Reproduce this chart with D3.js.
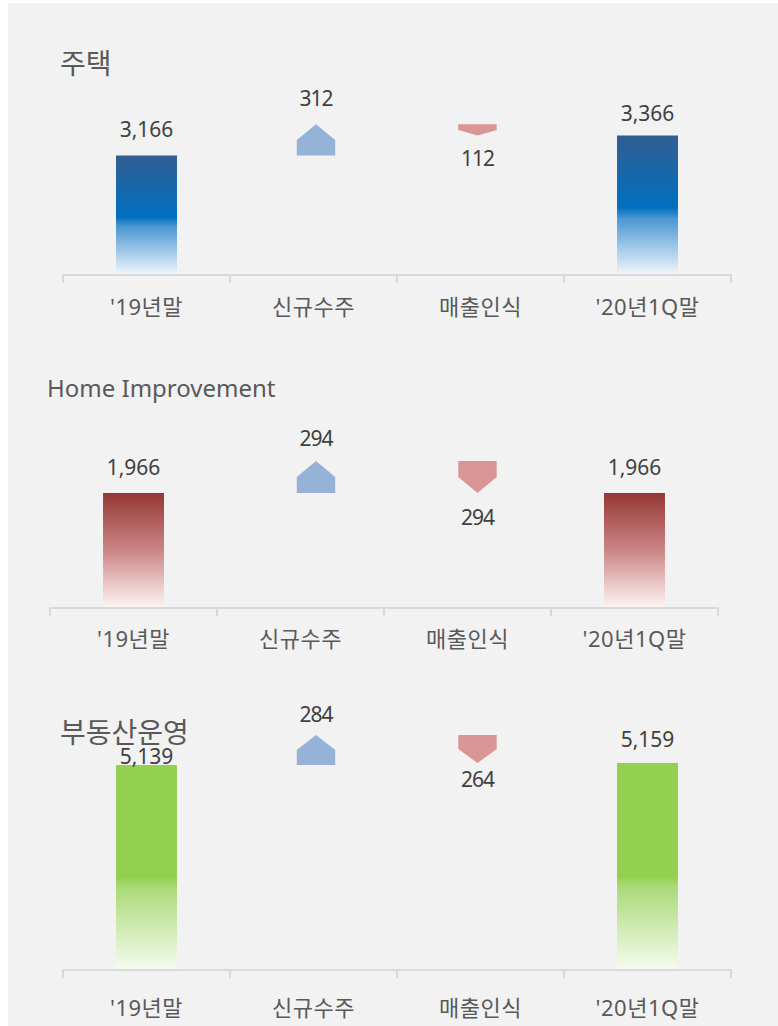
<!doctype html>
<html lang="ko">
<head>
    <meta charset="UTF-8">
    <title>수주잔고</title>
    <style>
        body { margin: 0; background: #fff; }
        svg { display: block; }
    </style>
</head>
<body>

<div class="canvas"></div>

<script src="https://d3js.org/d3.v7.min.js"></script>
<script>
    // values
    const categories = ["'19년말", '신규수주', '매출인식', "'20년1Q말"];
    const panelTitles = ['주택', 'Home Improvement', '부동산운영'];
    const startValues = [3166, 1966, 5139];
    const newOrders = [312, 294, 284];
    const salesBooked = [112, 294, 264];
    const endValues = [3366, 1966, 5159];

    const svgWidth = 778;
    const svgHeight = 1026;

    // layout per panel (value axis does not start at zero)
    const layout = [
        { left: 63, baseline: 274, floor: 1981, k: 0.100, titleX: 60, titleY: 74, titleSize: 28,
          barGap: [19, 15], incGap: 18, decGap: 30, catDy: 41, arrowShift: [2.5, -3], grad: 'blue' },
        { left: 50, baseline: 607, floor: 920, k: 0.109, titleX: 47, titleY: 397, titleSize: 24,
          barGap: [18, 18], incGap: 15, decGap: 32, catDy: 40, arrowShift: [15.5, 10], grad: 'red' },
        { left: 63, baseline: 969, floor: 3215, k: 0.106, titleX: 60, titleY: 743, titleSize: 28,
          barGap: [1, 16], incGap: 12.6, decGap: 24.4, catDy: 47, arrowShift: [2.5, -3], grad: 'green' }
    ];

    const gradients = {
        blue: [[0, '#315d92'], [0.52, '#0070c0'], [0.6, '#4b97d2'], [1, '#eef5fc']],
        red: [[0, '#953735'], [0.5, '#cb8584'], [1, '#fdf3f3']],
        green: [[0, '#92d050'], [0.55, '#92d050'], [0.6, '#a9da77'], [1, '#f5fbee']]
    };

    const fmt = d3.format(',');
    const korFont = '"Noto Sans CJK KR", "Noto Sans", sans-serif';
    const numFont = '"Noto Sans", "Liberation Sans", sans-serif';
    // latin glyphs from Noto Sans, hangul falls back to the CJK face
    const catFont = '"Noto Sans", "Noto Sans CJK KR", sans-serif';

    const svg = d3.select('.canvas').append('svg')
        .attr('width', svgWidth)
        .attr('height', svgHeight);

    svg.append('rect')
        .attr('x', 8).attr('y', 3)
        .attr('width', svgWidth - 8).attr('height', svgHeight - 3)
        .attr('fill', '#f2f2f2');

    const defs = svg.append('defs');
    Object.entries(gradients).forEach(([name, stops]) => {
        const g = defs.append('linearGradient')
            .attr('id', 'grad-' + name)
            .attr('x1', 0).attr('y1', 0).attr('x2', 0).attr('y2', 1);
        stops.forEach(s => g.append('stop').attr('offset', s[0]).attr('stop-color', s[1]));
    });

    panelTitles.forEach((title, i) => {
        const L = layout[i];
        const g = svg.append('g');

        const x = d3.scaleBand()
            .domain(categories)
            .range([L.left, L.left + 668]);

        const y = d3.scaleLinear()
            .domain([L.floor, L.floor + 1000])
            .range([L.baseline, L.baseline - 1000 * L.k]);

        const barW = x.bandwidth() * 0.365;
        const arrowW = x.bandwidth() * 0.23;
        const cx = c => x(c) + x.bandwidth() / 2;

        // title
        g.append('text')
            .attr('x', L.titleX)
            .attr('y', L.titleY)
            .attr('font-family', i === 1 ? numFont : korFont)
            .attr('font-size', L.titleSize)
            .attr('fill', '#595959')
            .text(title);

        // axis: baseline + ticks at band edges
        const edges = categories.map(c => x(c)).concat([x.range()[1]]);
        g.append('line')
            .attr('x1', x.range()[0]).attr('x2', x.range()[1])
            .attr('y1', L.baseline + 1).attr('y2', L.baseline + 1)
            .attr('stroke', '#d9d9d9').attr('stroke-width', 2);
        g.selectAll('.edge').data(edges).enter().append('line')
            .attr('x1', d => d).attr('x2', d => d)
            .attr('y1', L.baseline).attr('y2', L.baseline + 9)
            .attr('stroke', '#d9d9d9').attr('stroke-width', 2);

        const xAxis = d3.axisBottom(x).tickSize(0).tickPadding(0);
        const axisG = g.append('g')
            .attr('transform', `translate(0, ${L.baseline + L.catDy})`)
            .call(xAxis);
        axisG.select('.domain').remove();
        axisG.selectAll('text')
            .attr('dy', 0)
            .attr('font-family', catFont)
            .attr('font-size', 22)
            .attr('letter-spacing', 0.5)
            .attr('fill', '#595959');

        // total bars
        const totals = [
            { cat: categories[0], v: startValues[i], gap: L.barGap[0] },
            { cat: categories[3], v: endValues[i], gap: L.barGap[1] }
        ];
        g.selectAll('.bar').data(totals).enter().append('rect')
            .attr('x', d => cx(d.cat) - barW / 2)
            .attr('width', barW)
            .attr('y', d => y(d.v))
            .attr('height', d => L.baseline - y(d.v))
            .attr('fill', `url(#grad-${L.grad})`);
        g.selectAll('.barLabel').data(totals).enter().append('text')
            .attr('x', d => cx(d.cat))
            .attr('y', d => y(d.v) - d.gap)
            .attr('text-anchor', 'middle')
            .attr('font-family', numFont)
            .attr('font-size', 21)
            .attr('fill', '#404040')
            .text(d => fmt(d.v));

        // increase arrow
        const incX = cx(categories[1]) + L.arrowShift[0];
        const inc0 = y(startValues[i]);
        const inc1 = y(startValues[i] + newOrders[i]);
        const incMid = (inc0 + inc1) / 2;
        g.append('path')
            .attr('d', d3.line()([
                [incX - arrowW / 2, inc0], [incX - arrowW / 2, incMid], [incX, inc1],
                [incX + arrowW / 2, incMid], [incX + arrowW / 2, inc0]
            ]) + 'Z')
            .attr('fill', '#95b3d7');
        g.append('text')
            .attr('x', incX)
            .attr('y', inc1 - L.incGap)
            .attr('text-anchor', 'middle')
            .attr('font-family', numFont)
            .attr('font-size', 21)
            .attr('letter-spacing', -1)
            .attr('fill', '#404040')
            .text(fmt(newOrders[i]));

        // decrease arrow
        const decX = cx(categories[2]) + L.arrowShift[1];
        const dec0 = y(startValues[i] + newOrders[i]);
        const dec1 = y(startValues[i] + newOrders[i] - salesBooked[i]);
        const decMid = (dec0 + dec1) / 2;
        g.append('path')
            .attr('d', d3.line()([
                [decX - arrowW / 2, dec0], [decX + arrowW / 2, dec0], [decX + arrowW / 2, decMid],
                [decX, dec1], [decX - arrowW / 2, decMid]
            ]) + 'Z')
            .attr('fill', '#da9694');
        g.append('text')
            .attr('x', decX)
            .attr('y', dec1 + L.decGap)
            .attr('text-anchor', 'middle')
            .attr('font-family', numFont)
            .attr('font-size', 21)
            .attr('letter-spacing', -1)
            .attr('fill', '#404040')
            .text(fmt(salesBooked[i]));
    });
</script>
</body>
</html>
